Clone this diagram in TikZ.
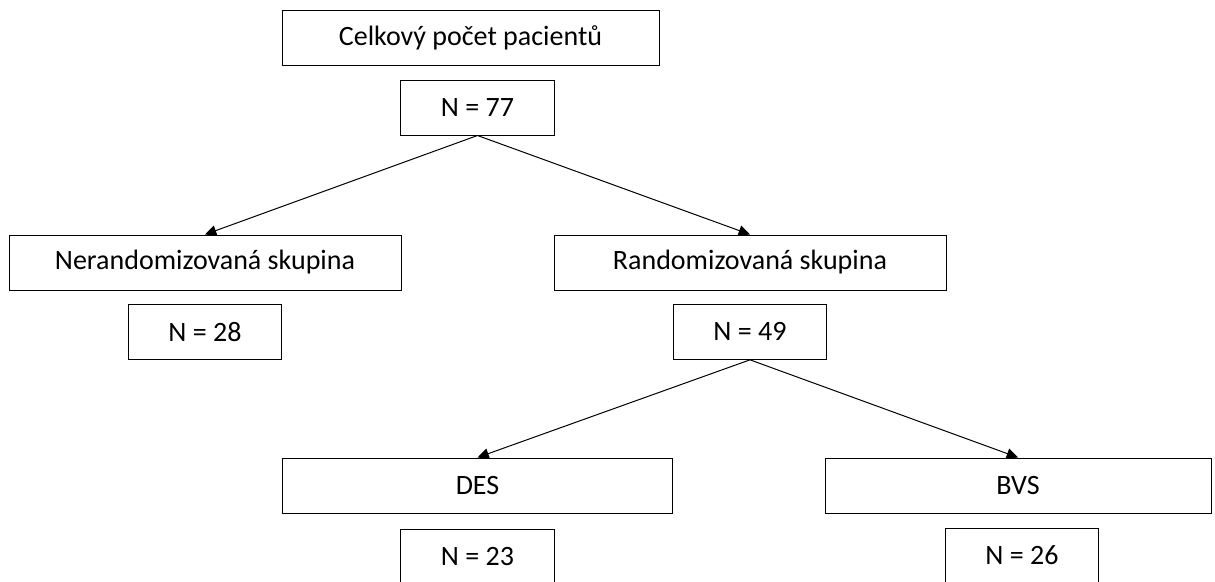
\documentclass[tikz,border=0pt]{standalone}
\usepackage{fontspec}
\setmainfont{Carlito}
\usetikzlibrary{arrows.meta,positioning}
\tikzset{
  grpbox/.style={draw=black, line width=0.75pt, align=center, font=\fontsize{21}{25}\selectfont, inner sep=0pt, minimum height=41.25pt},
  nbox/.style={grpbox, minimum width=115pt},
  parr/.style={-{Triangle[length=8.5pt,width=8pt]}, line width=0.75pt}
}

\begin{document}
\begin{tikzpicture}[x=0.75pt,y=-0.75pt]
\useasboundingbox (0,0) rectangle (1215,582);
\node[grpbox, minimum width=282.75pt] (top) at (470.5,37.5) {Celkový počet pacientů};
\node[nbox] (ntop) at (477.5,107.5) {N = 77};
\node[grpbox, minimum width=294pt] (neran) at (205,262.5) {Nerandomizovaná skupina};
\node[grpbox, minimum width=294pt] (ran) at (750,262.5) {Randomizovaná skupina};
\node[nbox, below=10pt of neran] (nneran) {N = 28};
\node[nbox, below=10pt of ran] (nran) {N = 49};
\node[grpbox, minimum width=293pt] (des) at (477.5,485.5) {DES};
\node[grpbox, minimum width=289.5pt] (bvs) at (1018,485.5) {BVS};
\node[nbox, below=11.25pt of des] (ndes) {N = 23};
\node[nbox] (nbvs) at (1022,555.5) {N = 26};
\draw[parr] (ntop.south)--(neran.north);
\draw[parr] (ntop.south)--(ran.north);
\draw[parr] (nran.south)--(des.north);
\draw[parr] (nran.south)--(bvs.north);
\end{tikzpicture}
\end{document}
